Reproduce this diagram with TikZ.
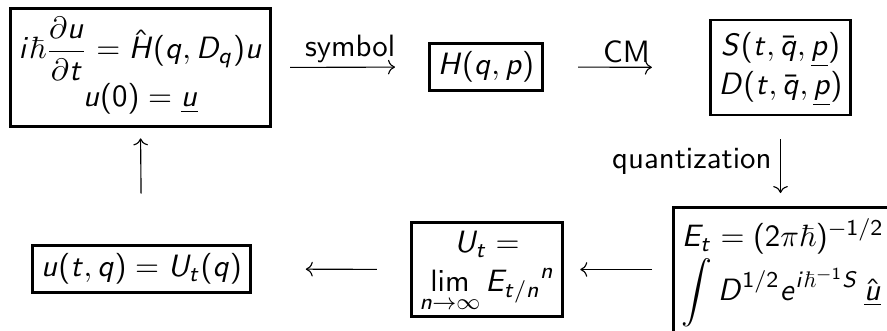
\documentclass[tikz,border=0pt]{standalone}
\usepackage{amsmath,amssymb}
\usetikzlibrary{arrows.meta,positioning}
% sans serif math, as on slides
\DeclareSymbolFont{operators}{OT1}{cmss}{m}{n}
\DeclareSymbolFont{sfletters}{OT1}{cmss}{m}{sl}
\newcommand\sfletter[1]{\DeclareMathSymbol{#1}{\mathalpha}{sfletters}{`#1}}
\makeatletter
\@tfor\next:=abcdefghijklmnopqrstuvwxyzABCDEFGHIJKLMNOPQRSTUVWXYZ\do{\expandafter\sfletter\next}
\makeatother

\begin{document}
\begin{tikzpicture}[x=0.355pt,y=-0.355pt,
  font=\fontsize{10.95}{13.6}\selectfont\sffamily,
  box/.style={draw,line width=1pt,inner xsep=3pt,inner ysep=3pt},
  map/.style={->,line width=0.4pt},
  lbl/.style={inner sep=1.5pt}]
\path[use as bounding box,clip] (0,0) rectangle (887,331);
% top row
\node[box] (pde) at (140.5,67.5)
  {$\begin{array}{@{}c@{}}\displaystyle i\hbar\frac{\partial u}{\partial t}=\hat H(q,D_q)u\\ u(0)=\underline{u}\end{array}$};
\node[box] (ham) at (486,67) {$H(q,p)$};
\node[box] (cm) at (780.5,67.5)
  {$\begin{array}{@{}c@{}}S(t,\bar q,\underline{p})\\ D(t,\bar q,\underline{p})\end{array}$};
% bottom row
\node[box] (sol) at (141.5,269) {$u(t,q)=U_t(q)$};
\node[box,inner ysep=1.3pt] (lim) at (487,269.5)
  {$\begin{array}{@{}c@{}}U_t=\\ \displaystyle\lim_{n\to\infty}{E_{t/n}}^n\end{array}$};
\node[box,anchor=north west,inner ysep=4pt] (fio) at (672,206)
  {$\begin{array}{@{}l@{}}E_t=(2\pi\hbar)^{-1/2}\\ \displaystyle\int D^{1/2}e^{i\hbar^{-1}S}\,\underline{\hat u}\end{array}$};
% maps
\draw[map,shorten <=6.4pt,shorten >=11.7pt] (pde.east) -- node[lbl,above] (sym) {symbol} (ham.west);
\draw[map,shorten <=12.1pt,shorten >=20.2pt] (ham.east) -- node[lbl,above] (cml) {CM} (cm.west);
\draw[map,shorten <=8.2pt,shorten >=4.6pt] (cm.south) -- node[lbl,left,inner sep=3pt] (qua) {quantization} (cm.south |- fio.north);
\draw[map,shorten <=7.1pt,shorten >=5.7pt] (fio.west |- lim.east) -- (lim.east);
\draw[map,shorten <=11.7pt,shorten >=19.2pt] (lim.west) -- (sol.east);
\draw[map,shorten <=17.8pt,shorten >=3.6pt] (sol.north) -- (pde.south);
\end{tikzpicture}
\end{document}
